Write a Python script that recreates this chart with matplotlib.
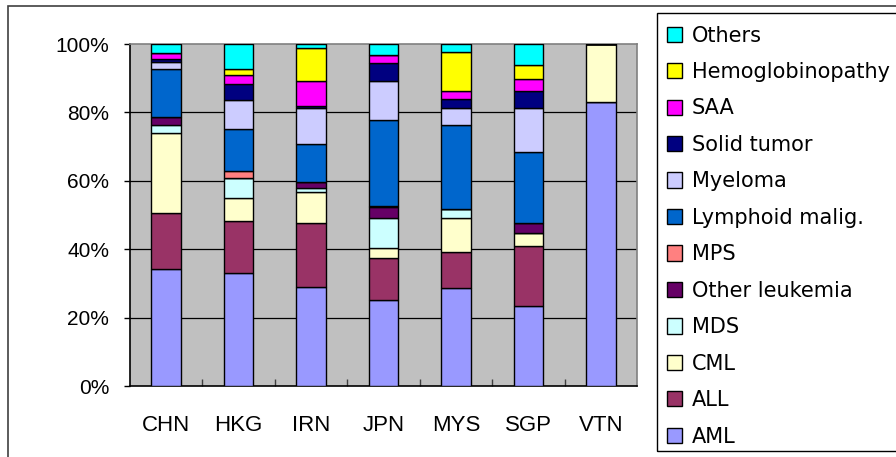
import matplotlib
matplotlib.use('Agg')
import matplotlib.pyplot as plt
import numpy as np
from matplotlib.patches import Rectangle

# Dados (%), de baixo para cima
paises = ['CHN', 'HKG', 'IRN', 'JPN', 'MYS', 'SGP', 'VTN']
doencas = ['AML', 'ALL', 'CML', 'MDS', 'Other leukemia', 'MPS',
           'Lymphoid malig.', 'Myeloma', 'Solid tumor', 'SAA',
           'Hemoglobinopathy', 'Others']

aml = [34.1, 33.1, 29.0, 25.1, 28.6, 23.4, 83.1]
all_ = [16.4, 15.1, 18.8, 12.4, 10.7, 17.5, 0]
cml = [23.6, 6.9, 8.9, 2.8, 9.7, 3.9, 16.9]
mds = [2.2, 5.6, 1.2, 8.7, 2.7, 0, 0]
other_leuk = [2.4, 0, 1.7, 3.2, 0, 2.8, 0]
mps = [0, 2.3, 0, 0.5, 0, 0, 0]
lymphoid = [14.0, 12.1, 11.2, 25.0, 24.6, 20.9, 0]
myeloma = [2.0, 8.5, 10.4, 11.6, 5.1, 12.7, 0]
solid = [0.8, 4.6, 0.8, 5.0, 2.4, 5.2, 0]
saa = [1.8, 2.7, 7.2, 2.5, 2.6, 3.4, 0]
hemo = [0, 1.8, 9.7, 0, 11.4, 4.1, 0]
others = [2.7, 7.3, 1.1, 3.2, 2.2, 6.1, 0]

series = [aml, all_, cml, mds, other_leuk, mps, lymphoid, myeloma,
          solid, saa, hemo, others]
cores = ['#9999FF', '#993366', '#FFFFCC', '#CCFFFF', '#660066', '#FF8080',
         '#0066CC', '#CCCCFF', '#000080', '#FF00FF', '#FFFF00', '#00FFFF']

W, H = 896, 457
fig = plt.figure(figsize=(W / 100, H / 100), dpi=100)
# moldura externa do gráfico
fig.patches.append(Rectangle((8 / W, -0.1), 1, 1.1 - 6 / H, transform=fig.transFigure,
                             fill=False, edgecolor='#404040', linewidth=1.2))
# moldura da legenda
fig.patches.append(Rectangle((657 / W, 1 - 451 / H), 0.5, 438 / H, transform=fig.transFigure,
                             fill=False, edgecolor='black', linewidth=1.0))

ax = fig.add_axes([130 / W, (H - 386) / H, 507 / W, 342 / H])
ax.set_facecolor('#C0C0C0')

x = np.arange(len(paises))
base = np.zeros(len(paises))
handles = []
for vals, cor, nome in zip(series, cores, doencas):
    v = np.array(vals, dtype=float)
    b = ax.bar(x, v, 0.41, bottom=base, color=cor, edgecolor='black',
               linewidth=1.0, label=nome, zorder=3)
    handles.append(b)
    base += v

ax.set_xlim(-0.5, len(paises) - 0.5)
ax.set_ylim(0, 100)
ax.set_yticks([0, 20, 40, 60, 80, 100])
ax.set_yticklabels(['0%', '20%', '40%', '60%', '80%', '100%'],
                   fontsize=15, family='Liberation Sans')
for yv in [20, 40, 60, 80]:
    ax.axhline(yv, color='black', linewidth=0.9, zorder=1)

ax.set_xticks(x)
ax.set_xticklabels(paises, fontsize=16, family='Liberation Sans')
ax.set_xticks(np.arange(0.5, len(paises) - 0.5, 1), minor=True)
ax.tick_params(axis='x', which='major', length=0, pad=21)
ax.tick_params(axis='x', which='minor', direction='in', length=5, width=1, color='#404040')
ax.tick_params(axis='y', direction='out', length=4, width=1, pad=11)

for s in ['left', 'bottom']:
    ax.spines[s].set_color('black')
    ax.spines[s].set_linewidth(1.2)
for s in ['top', 'right']:
    ax.spines[s].set_color('#808080')
    ax.spines[s].set_linewidth(1.2)

leg = fig.legend(handles[::-1], doencas[::-1], loc='upper left',
                 bbox_to_anchor=(654 / W, 1 - 13 / H), bbox_transform=fig.transFigure,
                 frameon=False,
                 prop={'family': 'DejaVu Sans', 'size': 15},
                 handlelength=0.75, handleheight=0.75, handletextpad=0.45,
                 labelspacing=0.79, borderpad=0.6, borderaxespad=0)

fig.savefig('out.png', dpi=100)
